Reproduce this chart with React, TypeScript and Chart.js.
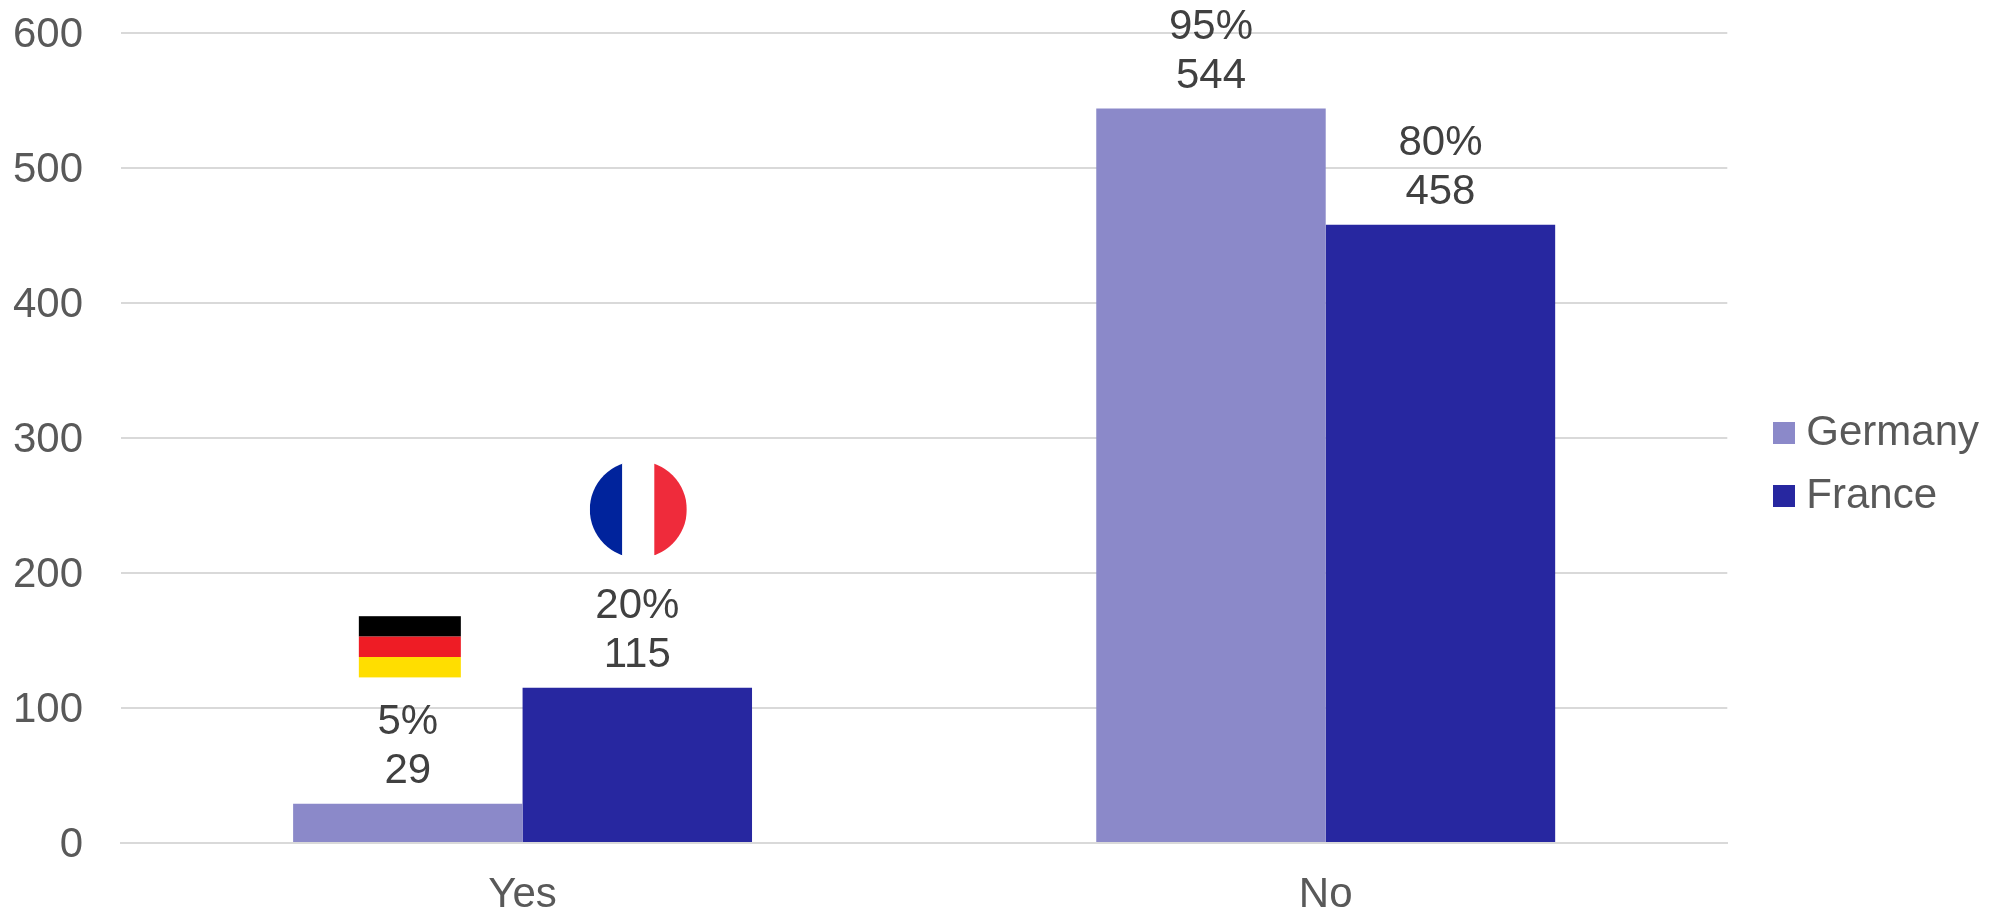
import React, { useEffect, useRef } from "react";
import { Chart, registerables } from "chart.js";

Chart.register(...registerables);

const categories = ["Yes", "No"];
const germanyValues = [29, 544];
const franceValues = [115, 458];
const germanyShares = ["5%", "95%"];
const franceShares = ["20%", "80%"];
const yTicks = [0, 100, 200, 300, 400, 500, 600];

const GERMANY_COLOR = "#8b89c9";
const FRANCE_COLOR = "#2727a0";
const FONT = "'Liberation Sans', Arial, sans-serif";
const FONT_SIZE = 42;

// Square legend marker, sized independently of the legend's text gap.
function swatch(color: string) {
  const c = document.createElement("canvas");
  c.width = 22;
  c.height = 22;
  const g = c.getContext("2d")!;
  g.fillStyle = color;
  g.fillRect(0, 0, 22, 22);
  return c;
}

// Two stacked lines above each bar: share, then count.
const barLabels = {
  id: "barLabels",
  afterDatasetsDraw(chart: any) {
    const { ctx } = chart;
    ctx.save();
    ctx.font = `${FONT_SIZE}px ${FONT}`;
    ctx.fillStyle = "#404040";
    ctx.textAlign = "center";
    ctx.textBaseline = "alphabetic";
    chart.data.datasets.forEach((ds: any, di: number) => {
      chart.getDatasetMeta(di).data.forEach((bar: any, i: number) => {
        ctx.fillText(String(ds.data[i]), bar.x, bar.y - 21);
        ctx.fillText(ds.shares[i], bar.x, bar.y - 70);
      });
    });
    ctx.restore();
  },
};

// Country flags sitting over the "Yes" bars.
const flags = {
  id: "flags",
  afterDatasetsDraw(chart: any) {
    const { ctx } = chart;
    const y = chart.scales.y;
    const de = chart.getDatasetMeta(0).data[0];
    const fr = chart.getDatasetMeta(1).data[0];

    const deTop = y.getPixelForValue(168);
    const stripe = 20.4;
    ["#000000", "#ee1c25", "#ffde00"].forEach((color, i) => {
      ctx.fillStyle = color;
      ctx.fillRect(de.x - 49, deTop + i * stripe, 102, stripe);
    });

    const cx = fr.x + 1;
    const cy = y.getPixelForValue(247);
    const r = 48.5;
    ctx.save();
    ctx.beginPath();
    ctx.arc(cx, cy, r, 0, Math.PI * 2);
    ctx.clip();
    ctx.fillStyle = "#00239c";
    ctx.fillRect(cx - r, cy - r, r - 16, 2 * r);
    ctx.fillStyle = "#ffffff";
    ctx.fillRect(cx - 16, cy - r, 32, 2 * r);
    ctx.fillStyle = "#ef2b3b";
    ctx.fillRect(cx + 16, cy - r, r - 16, 2 * r);
    ctx.restore();
  },
};

// Places the legend box: a gap after the plot, running to the canvas edge, nudged up.
const legendPlacement = {
  id: "legendPlacement",
  afterLayout(chart: any) {
    const legend = chart.legend;
    legend.left = chart.chartArea.right + 35;
    legend.right = chart.width;
    legend.width = legend.right - legend.left;
    legend.top -= 9;
    legend.bottom -= 9;
  },
};

// Lowers the value-axis labels slightly so the digits centre on their grid lines.
const tickNudge = {
  id: "tickNudge",
  beforeDraw(chart: any) {
    chart.scales.y.getLabelItems().forEach((item: any) => {
      if (!item.nudged) {
        item.options.translation[1] += 2.5;
        item.nudged = true;
      }
    });
  },
};

export default function App() {
  const ref = useRef<HTMLCanvasElement>(null);

  useEffect(() => {
    document.body.style.margin = "0";
    const chart = new Chart(ref.current!, {
      type: "bar",
      data: {
        labels: categories,
        datasets: [
          { label: "Germany", data: germanyValues, shares: germanyShares, backgroundColor: GERMANY_COLOR, categoryPercentage: 0.5714, barPercentage: 1 } as any,
          { label: "France", data: franceValues, shares: franceShares, backgroundColor: FRANCE_COLOR, categoryPercentage: 0.5714, barPercentage: 1 } as any,
        ],
      },
      options: {
        responsive: false,
        animation: false,
        layout: { padding: { top: 33, left: 0, right: 37, bottom: 0 } },
        plugins: {
          tooltip: { enabled: false },
          legend: {
            position: "right",
            labels: {
              usePointStyle: true,
              boxWidth: 2,
              boxHeight: 2,
              padding: 21,
              color: "#595959",
              font: { family: FONT, size: FONT_SIZE, lineHeight: 1 },
              generateLabels(c: any) {
                return Chart.defaults.plugins.legend.labels.generateLabels(c).map((item: any, i: number) => ({
                  ...item,
                  pointStyle: swatch(i === 0 ? GERMANY_COLOR : FRANCE_COLOR),
                }));
              },
            },
          },
        },
        scales: {
          x: {
            grid: { display: false, drawTicks: false },
            border: { display: true, color: "#d9d9d9", width: 2 },
            ticks: { color: "#595959", font: { family: FONT, size: FONT_SIZE }, padding: 27, maxRotation: 0 },
            afterFit(scale: any) {
              scale.height = 71;
            },
          },
          y: {
            min: 0,
            max: 600,
            afterBuildTicks(scale: any) {
              scale.ticks = yTicks.map((value) => ({ value }));
            },
            grid: { color: "#d9d9d9", lineWidth: 2, drawTicks: false },
            border: { display: false },
            ticks: { color: "#595959", font: { family: FONT, size: FONT_SIZE }, padding: 38 },
            afterFit(scale: any) {
              scale.width = 121;
              scale.paddingTop = 0;
              scale.paddingBottom = 0;
            },
          },
        },
      },
      plugins: [barLabels, flags, legendPlacement, tickNudge],
    });
    return () => chart.destroy();
  }, []);

  return <canvas ref={ref} width={1991} height={914} style={{ display: "block" }} />;
}
